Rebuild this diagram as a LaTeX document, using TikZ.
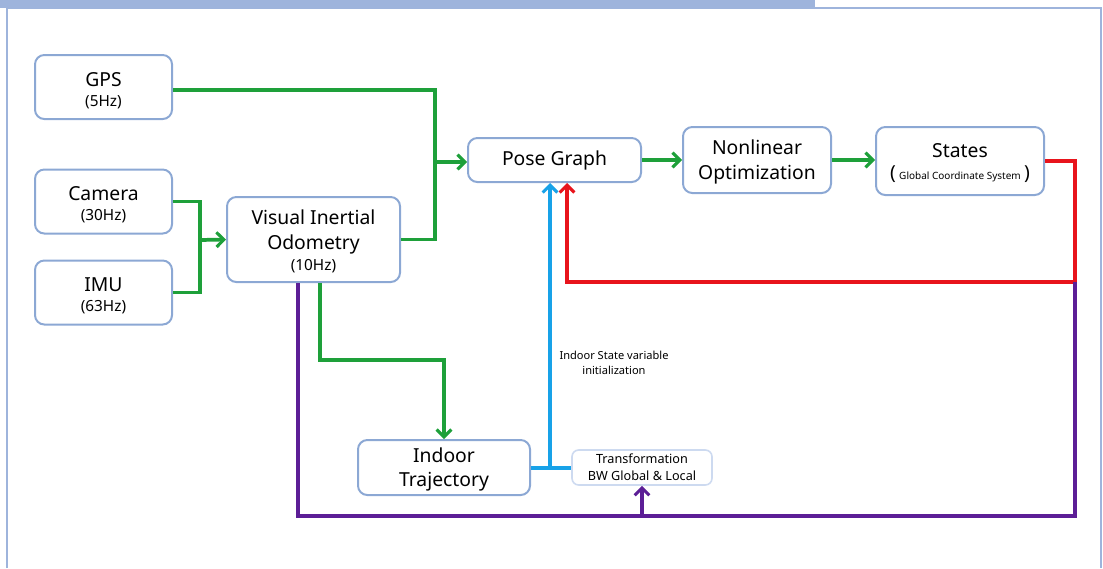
\documentclass[tikz,border=0pt]{standalone}
\usepackage{fontspec}
\setmainfont{Noto Sans}
\usetikzlibrary{arrows.meta}
\definecolor{frameblue}{RGB}{158,180,220}
\definecolor{boxedge}{RGB}{140,168,212}
\definecolor{lightedge}{RGB}{205,218,240}
\definecolor{flowgreen}{RGB}{30,160,58}
\definecolor{flowred}{RGB}{232,20,28}
\definecolor{flowblue}{RGB}{24,162,232}
\definecolor{flowpurple}{RGB}{92,30,150}
% font size of the second (rate) line in a block
\newcommand{\ratetxt}{\fontsize{11.5}{13}\selectfont}
% invisible strut that lowers a block's text a little
\newcommand{\lowerstrut}[1]{\rule{0pt}{#1}}
\begin{document}
\begin{tikzpicture}[x=0.75pt,y=-0.75pt,
  blk/.style={draw=boxedge, line width=1.5pt, rounded corners=7pt, fill=white,
              align=center, inner sep=0pt},
  note/.style={draw=lightedge, line width=1.2pt, rounded corners=5pt, fill=white,
               align=center, inner sep=0pt},
  flow/.style={line width=2.8pt},
  tip/.style={-{Straight Barb[length=5.5pt,width=11pt,line width=2.3pt]}},
  gline/.style={flow, draw=flowgreen},
  rline/.style={flow, draw=flowred},
  bline/.style={flow, draw=flowblue},
  pline/.style={flow, draw=flowpurple},
  sensor/.style={blk, minimum width=102.75pt, minimum height=48pt,
                 font=\fontsize{14.5}{15}\selectfont}]
\useasboundingbox (0,0) rectangle (1103,568);
% page frame
\fill[frameblue] (0,0) rectangle (815,8);
\draw[frameblue, line width=1pt] (7,568) -- (7,8) -- (1101,8) -- (1101,568);

% blocks
\node[sensor] (gps) at (103.5,87) {\lowerstrut{16pt}GPS\\{\ratetxt (5Hz)}};
\node[sensor] (cam) at (103.5,201.5) {\lowerstrut{16pt}Camera\\{\ratetxt (30Hz)}};
\node[sensor] (imu) at (103.5,292.5) {\lowerstrut{16pt}IMU\\{\ratetxt (63Hz)}};
\node[blk, minimum width=129.75pt, minimum height=63.75pt,
      font=\fontsize{14.5}{19}\selectfont] (vio) at (313.5,239.5)
  {\lowerstrut{14pt}Visual Inertial\\Odometry\\[-3.5pt]{\ratetxt (10Hz)}};
\node[blk, minimum width=129.75pt, minimum height=33pt,
      font=\fontsize{14.5}{17}\selectfont] (pose) at (554.5,160) {Pose Graph};
\node[blk, minimum width=111pt, minimum height=49.5pt,
      font=\fontsize{14.5}{18.5}\selectfont] (nlo) at (757,160)
  {\lowerstrut{13.5pt}Nonlinear\\Optimization};
\node[blk, minimum width=126pt, minimum height=51pt,
      font=\fontsize{14.5}{16.5}\selectfont] (st) at (960,161)
  {\lowerstrut{13.5pt}States\\(\,{\fontsize{7.5}{8}\selectfont\bfseries Global Coordinate System}\,)};
\node[blk, minimum width=129pt, minimum height=41.25pt,
      font=\fontsize{14.5}{18}\selectfont] (ind) at (444,467.5)
  {\lowerstrut{14pt}Indoor\\Trajectory};
\node[note, minimum width=105pt, minimum height=26.25pt,
      font=\fontsize{9.5}{12.75}\selectfont] (tf) at (642,467.5)
  {Transformation\\BW Global \& Local};
\node[align=center, inner sep=0pt, font=\fontsize{8.3}{11.25}\selectfont]
  (lbl) at (614,363) {Indoor State variable\\initialization};

% junction points
\coordinate (jg) at (435,162);
\coordinate (jc) at (200,240);
\coordinate (kv) at (444,360);
\coordinate (rc) at (1075,282);
\coordinate (pc) at (1075,516);
\coordinate (bj) at (550,468);

% green data flow
\draw[gline, tip] ([yshift=-2.25pt]gps.east) -| (jg) -- (pose.west |- jg);
\draw[gline] (vio.east) -| (jg);
\draw[gline] (cam.east) -| (jc);
\draw[gline] (imu.east) -| (jc);
\draw[gline, tip] (jc) -- (vio.west);
\draw[gline, tip] (pose.east) -- (nlo.west);
\draw[gline, tip] (nlo.east) -- (st.west |- nlo.east);
\draw[gline, tip] ([xshift=4.875pt]vio.south) |- (kv) -- (ind.north);

% red feedback
\draw[rline, tip] (st.east) -| (rc) -| ([xshift=9.4pt]pose.south);

% purple loop
\draw[pline] ([xshift=-11.6pt]vio.south) |- (pc) -- (rc);
\draw[pline, tip] (tf.south |- pc) -- (tf.south);

% blue initialization
\draw[bline] (ind.east |- bj) -- (tf.west |- bj);
\draw[bline, tip] (bj) -- (pose.south -| bj);
\end{tikzpicture}
\end{document}
